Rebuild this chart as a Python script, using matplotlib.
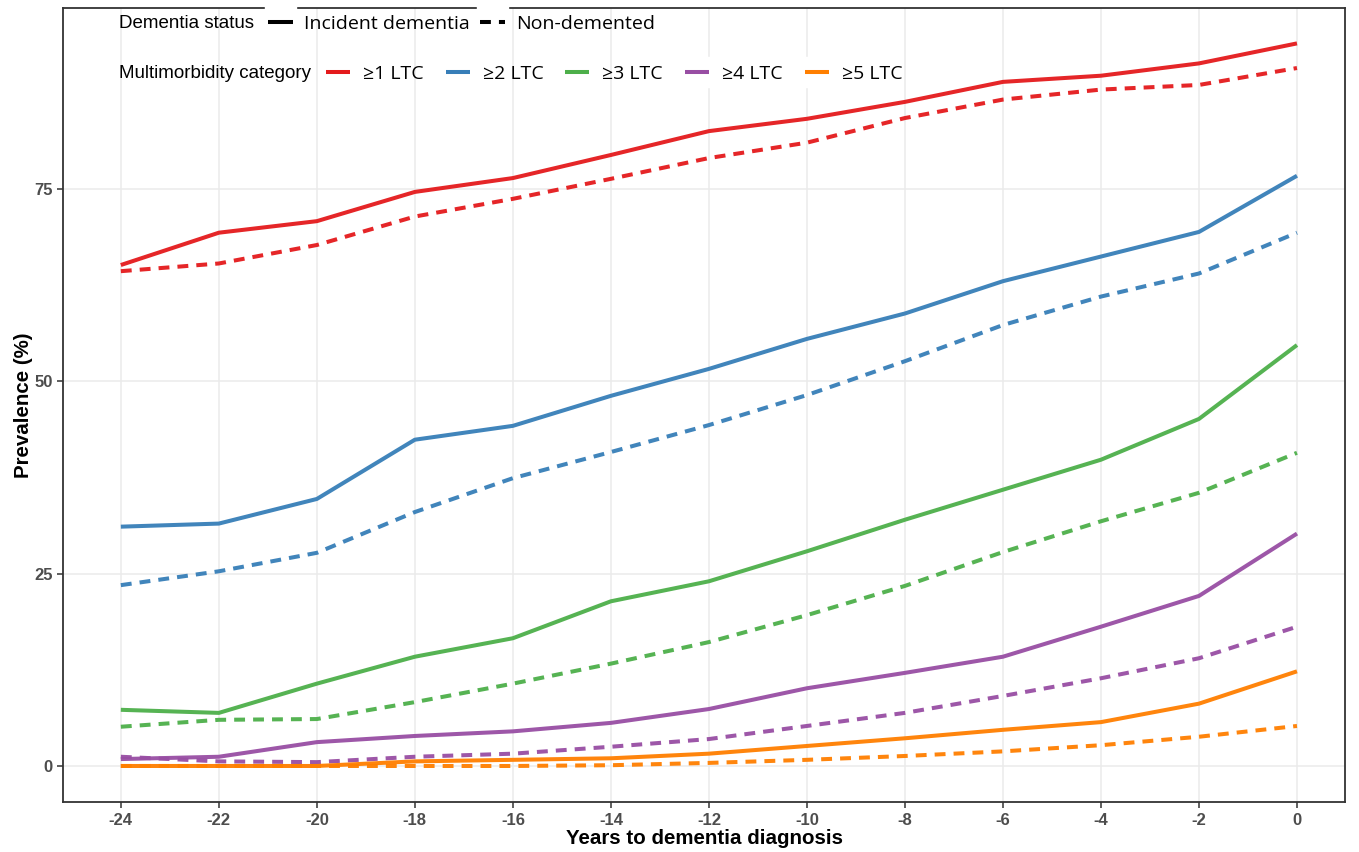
import numpy as np
import matplotlib.pyplot as plt
from matplotlib.lines import Line2D
from matplotlib.patches import Rectangle

# --- Données ---
years = [-24, -22, -20, -18, -16, -14, -12, -10, -8, -6, -4, -2, 0]
categories = ["≥1 LTC", "≥2 LTC", "≥3 LTC", "≥4 LTC", "≥5 LTC"]
colors = ["#E41A1C", "#377EB8", "#4DAF4A", "#984EA3", "#FF7F00"]

dementia = [
    [65.1, 69.3, 70.8, 74.6, 76.4, 79.4, 82.5, 84.1, 86.3, 88.9, 89.7, 91.3, 93.9],
    [31.1, 31.5, 34.7, 42.4, 44.2, 48.1, 51.6, 55.5, 58.8, 63.0, 66.2, 69.4, 76.7],
    [7.3, 6.9, 10.7, 14.2, 16.6, 21.4, 24.0, 27.9, 32.0, 35.9, 39.8, 45.1, 54.7],
    [0.9, 1.2, 3.1, 3.9, 4.5, 5.6, 7.4, 10.1, 12.1, 14.2, 18.1, 22.1, 30.2],
    [0.0, 0.0, 0.0, 0.6, 0.8, 1.0, 1.6, 2.6, 3.6, 4.7, 5.7, 8.1, 12.3],
]
non_demented = [
    [64.3, 65.3, 67.7, 71.4, 73.7, 76.3, 79.0, 81.0, 84.2, 86.6, 87.9, 88.5, 90.7],
    [23.5, 25.3, 27.7, 33.0, 37.4, 40.8, 44.3, 48.2, 52.6, 57.3, 61.0, 64.0, 69.3],
    [5.1, 6.0, 6.1, 8.3, 10.7, 13.3, 16.1, 19.6, 23.4, 27.8, 31.8, 35.5, 40.7],
    [1.2, 0.6, 0.5, 1.2, 1.6, 2.5, 3.5, 5.2, 6.9, 9.1, 11.4, 14.0, 18.1],
    [0.0, 0.0, 0.0, 0.0, 0.0, 0.1, 0.4, 0.8, 1.3, 1.9, 2.7, 3.8, 5.2],
]

W, H = 1359, 852
LW = 2.9
DASH = (2.7, 2.0)

plt.rcParams["font.family"] = ["Liberation Sans", "DejaVu Sans"]

fig = plt.figure(figsize=(W / 100, H / 100), dpi=100)
ax = fig.add_axes([63 / W, 1 - 802 / H, (1345 - 63) / W, (802 - 8) / H])

for sol, das, col in zip(dementia, non_demented, colors):
    ax.plot(years, das, color=col, lw=LW, dashes=DASH, alpha=0.95)
    ax.plot(years, sol, color=col, lw=LW, alpha=0.95, solid_capstyle="butt")

ax.set_xlim(-25.18, 0.98)
ax.set_ylim(-4.68, 98.5)
ax.set_xticks(years)
ax.set_xticklabels([str(y) for y in years])
ax.set_yticks([0, 25, 50, 75])
ax.grid(True, color="#EBEBEB", lw=1.1)
ax.set_axisbelow(True)
for s in ax.spines.values():
    s.set_color("#333333")
    s.set_linewidth(1.3)
ax.tick_params(colors="#333333", length=4, width=1.1, labelsize=12,
               labelcolor="#4D4D4D")
ax.tick_params(axis="x", pad=4)
for lab in ax.get_xticklabels() + ax.get_yticklabels():
    lab.set_fontweight("bold")
ax.set_xlabel("Years to dementia diagnosis", fontsize=14.8, fontweight="bold", labelpad=1)
ax.set_ylabel("Prevalence (%)", fontsize=14.8, fontweight="bold", labelpad=1)


# --- Légendes dessinées à la main (coordonnées en pixels) ---
def fx(x):
    return x / W


def fy(y):
    return 1 - y / H


def key(x0, x1, y, color, dashed=False, box=(0, 0)):
    bw, bh = box
    fig.add_artist(Rectangle((fx(x0 - bw), fy(y + bh / 2)), (x1 - x0 + 2 * bw) / W,
                             bh / H, transform=fig.transFigure, color="white", zorder=5))
    ln = Line2D([fx(x0), fx(x1)], [fy(y), fy(y)], transform=fig.transFigure,
                color=color, lw=LW, zorder=6, solid_capstyle="butt")
    if dashed:
        ln.set_dashes(DASH)
    fig.add_artist(ln)


def label(x, y, s, family="Open Sans", size=14):
    fig.text(fx(x), fy(y + 2), s, ha="left", va="center", fontsize=size,
             family=[family, "DejaVu Sans"], zorder=7)


# ligne 1 : statut démence
label(119, 22, "Dementia status", family="Liberation Sans", size=13.5)
key(268, 293, 22, "black", box=(3, 34))
label(304, 22, "Incident dementia")
key(480, 505, 22, "black", dashed=True, box=(3, 34))
label(516, 22, "Non-demented")

# ligne 2 : catégorie de multimorbidité
label(119, 72, "Multimorbidity category", family="Liberation Sans", size=13.5)
key_x = [326, 446, 565, 685, 805]
for kx, cat, col in zip(key_x, categories, colors):
    key(kx, kx + 24, 72, col, box=(5, 30))
    label(kx + 37, 72, cat)

fig.savefig("out.png", dpi=100)
